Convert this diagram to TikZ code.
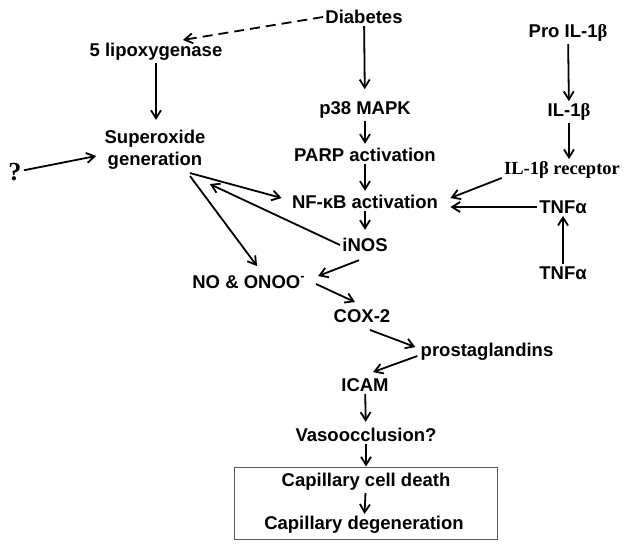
\documentclass[tikz,border=0pt]{standalone}
\usepackage{fontspec}
\setmainfont{Liberation Sans}
\newfontfamily\timesfont{Liberation Serif}
\usetikzlibrary{arrows.meta,calc}

\begin{document}
\begin{tikzpicture}[x=0.5pt,y=-0.5pt,
  font=\fontsize{9.25}{11}\selectfont\bfseries,
  every node/.style={inner sep=1pt},
  arr/.style={-{Straight Barb[length=4pt,width=5pt,line width=0.9pt]},line width=0.9pt}]
\useasboundingbox (0,0) rectangle (635,546);
% centre column
\node (diab) at (364,17) {Diabetes};
\node (p38) at (365,110) {p38 MAPK};
\node (parp) at (365,155) {PARP activation};
\node (nfkb) at (365,202) {NF-κB activation};
\node (inos) at (365,245) {iNOS};
\node (no) at (249,282) {NO \& ONOO\textsuperscript{-}};
\node (cox) at (362,316) {COX-2};
\node (prost) at (487,352) {prostaglandins};
\node (icam) at (365,385) {ICAM};
\node (vaso) at (366,435) {Vasoocclusion?};
\node (box) [draw=gray!70!black,line width=0.5pt,minimum width=131.5pt,minimum height=36pt] at (366,503) {};
\node (cell) at (366,482) {Capillary cell death};
\node (degen) at (364,525) {Capillary degeneration};
% left
\node (lipo) at (156,52) {5 lipoxygenase};
\node (sup) [align=center] at (155,150) {Superoxide\\generation};
\node (q) at (15,172) {\timesfont\fontsize{13}{14}\selectfont ?};
% right
\node (proil) at (568,33) {Pro IL-1{\timesfont β}};
\node (il) at (569,112) {IL-1{\timesfont β}};
\node (ilr) at (562,170) {\timesfont IL-1β receptor};
\node (tnfa) at (563,207) {TNFα};
\node (tnfb) at (563,273) {TNFα};

\draw[arr,dashed,dash pattern=on 5pt off 3pt] (diab.west) -- ($(lipo.north)+(27,-1)$);
\draw[arr,shorten >=5pt] (diab) -- (p38);
\draw[arr,shorten >=1pt] (p38) -- (parp);
\draw[arr,shorten >=1pt] (parp) -- (nfkb);
\draw[arr,shorten >=3pt] (nfkb) -- (inos);
\draw[arr,shorten >=4pt] (lipo) -- (lipo |- sup.north);
\draw[arr] (q) -- ($(sup.west)+(-6,6)$);
\coordinate (supout) at ($(sup.south)+(35,1)$);
\draw[arr] (supout) -- ($(nfkb.west)+(-8,-4)$);
\draw[arr] (inos.west) -- ($(sup.south east)+(2,12)$);
\draw[arr] ($(supout)+(0,3)$) -- ($(no.north)+(8,-7)$);
\draw[arr] ($(inos.south)+(-6,6)$) -- ($(no.north east)+(10,3)$);
\draw[arr] ($(no.east)+(8,2)$) -- ($(cox.north)+(-7,-5)$);
\draw[arr] ($(cox.south)+(8,5)$) -- ($(prost.west)+(-3,-5)$);
\draw[arr] ($(prost.west)+(-1,4)$) -- ($(icam.north)+(8,-4)$);
\draw[arr,shorten >=2pt] (icam) -- (vaso);
\draw[arr] (vaso) -- (box.north);
\draw[arr] (cell) -- (degen);
\draw[arr] (proil) -- (il);
\draw[arr] (il) -- (il |- ilr.north);
\draw[arr] ($(ilr.west)+(0,8)$) -- ($(nfkb.east)+(10,-4)$);
\draw[arr] (tnfa.west) -- ($(nfkb.east)+(10,5)$);
\draw[arr] (tnfb) -- (tnfa);
\end{tikzpicture}
\end{document}
